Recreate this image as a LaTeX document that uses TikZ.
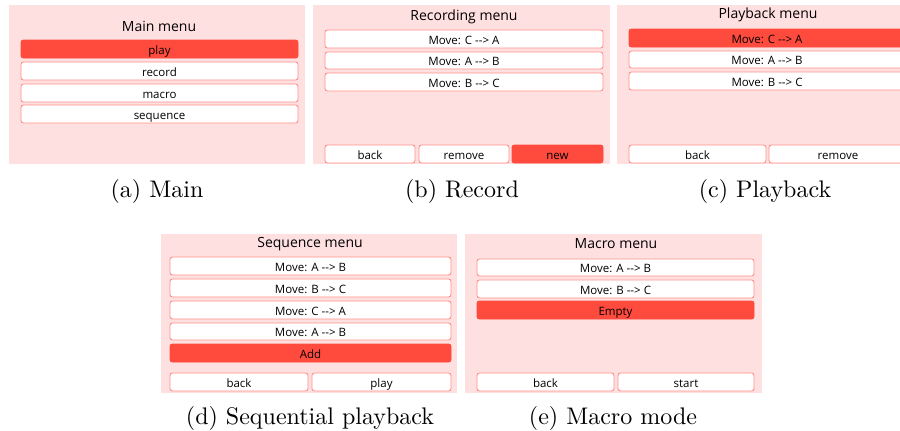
\documentclass[tikz,border=0pt]{standalone}
\usepackage{fontspec}
\newfontfamily\uifont{Open Sans}
\usetikzlibrary{calc}
\definecolor{bgc}{HTML}{FFE0E0}
\definecolor{redc}{HTML}{FF4A3E}
\definecolor{bordc}{HTML}{FF8F8A}
\tikzset{
  panel/.style={fill=bgc, draw=none},
  btnbox/.style={fill=white, draw=bordc, line width=0.9pt, rounded corners=2.5pt},
  selbox/.style={fill=redc, draw=redc, line width=0.9pt, rounded corners=2.5pt},
  btntext/.style={font=\uifont\fontsize{11.5}{13}\selectfont, inner sep=0pt, text=black, anchor=base},
  titletext/.style={font=\uifont\fontsize{14}{16}\selectfont, inner sep=0pt, anchor=base},
  captext/.style={inner sep=0pt, anchor=base},
}
\newcommand{\captxt}[1]{\scalebox{2.4}{\fontsize{10}{12}\selectfont #1}}
% \mkbtn{style}{name}{x1}{y1}{x2}{y2}{text}
\newcommand{\mkbtn}[7]{%
  \path[#1] (#3,#4) rectangle (#5,#6);
  \node[btntext] (#2) at ($(#3,#4)!0.5!(#5,#6)+(0,5)$) {#7};
}
\begin{document}
\begin{tikzpicture}[x=1pt,y=-1pt]
\useasboundingbox (0,0) rectangle (900,431);
\clip (0,0) rectangle (900,431);
\fill[white] (0,0) rectangle (900,431);

% (a) Main
\path[panel] (9,5) rectangle (305,164);
\node[titletext] (ta) at (159,31) {Main menu};
\mkbtn{selbox}{a1}{21}{40}{298}{58}{play}
\mkbtn{btnbox}{a2}{21}{62}{298}{80}{record}
\mkbtn{btnbox}{a3}{21}{84}{298}{102}{macro}
\mkbtn{btnbox}{a4}{21}{105}{298}{123}{sequence}
\node[captext] (ca) at (157,197) {\captxt{(a) Main}};

% (b) Record
\path[panel] (313,5) rectangle (610,164);
\node[titletext] (tb) at (464,20) {Recording menu};
\mkbtn{btnbox}{b1}{325}{30}{603}{48}{Move: C --> A}
\mkbtn{btnbox}{b2}{325}{52}{603}{69}{Move: A --> B}
\mkbtn{btnbox}{b3}{325}{73}{603}{91}{Move: B --> C}
\mkbtn{btnbox}{b4}{325}{145}{415}{163}{back}
\mkbtn{btnbox}{b5}{419}{145}{509}{163}{remove}
\mkbtn{selbox}{b6}{512}{145}{603}{163}{new}
\node[captext] (cb) at (462,197) {\captxt{(b) Record}};

% (c) Playback
\path[panel] (617,5) rectangle (905,164);
\node[titletext] (tc) at (768,19) {Playback menu};
\path[selbox] (629,29) rectangle (910,47);
\node[btntext] (c1) at (767,43) {Move: C --> A};
\path[btnbox] (629,51) rectangle (910,68);
\node[btntext] (c2) at (767,64.5) {Move: A --> B};
\path[btnbox] (629,72) rectangle (910,90);
\node[btntext] (c3) at (767,86) {Move: B --> C};
\mkbtn{btnbox}{c4}{629}{145}{766}{163}{back}
\path[btnbox] (769,145) rectangle (910,163);
\node[btntext] (c5) at (838,159) {remove};
\node[captext] (cc) at (765,197) {\captxt{(c) Playback}};

% (d) Sequential playback
\path[panel] (161,234) rectangle (457,393);
\node[titletext] (td) at (310,247) {Sequence menu};
\mkbtn{btnbox}{d1}{170}{257}{451}{275}{Move: A --> B}
\mkbtn{btnbox}{d2}{170}{279}{451}{297}{Move: B --> C}
\mkbtn{btnbox}{d3}{170}{301}{451}{319}{Move: C --> A}
\mkbtn{btnbox}{d4}{170}{323}{451}{340}{Move: A --> B}
\mkbtn{selbox}{d5}{170}{344}{451}{362}{Add}
\mkbtn{btnbox}{d6}{170}{373}{308}{391}{back}
\mkbtn{btnbox}{d7}{312}{373}{451}{391}{play}
\node[captext] (cd) at (310,424) {\captxt{(d) Sequential playback}};

% (e) Macro mode
\path[panel] (465,234) rectangle (762,393);
\node[titletext] (te) at (616,248) {Macro menu};
\mkbtn{btnbox}{e1}{477}{259}{754}{276}{Move: A --> B}
\mkbtn{btnbox}{e2}{477}{280}{754}{298}{Move: B --> C}
\mkbtn{selbox}{e3}{477}{301}{754}{319}{Empty}
\mkbtn{btnbox}{e4}{477}{373}{614}{391}{back}
\mkbtn{btnbox}{e5}{618}{373}{754}{391}{start}
\node[captext] (ce) at (613,424) {\captxt{(e) Macro mode}};
\end{tikzpicture}
\end{document}
